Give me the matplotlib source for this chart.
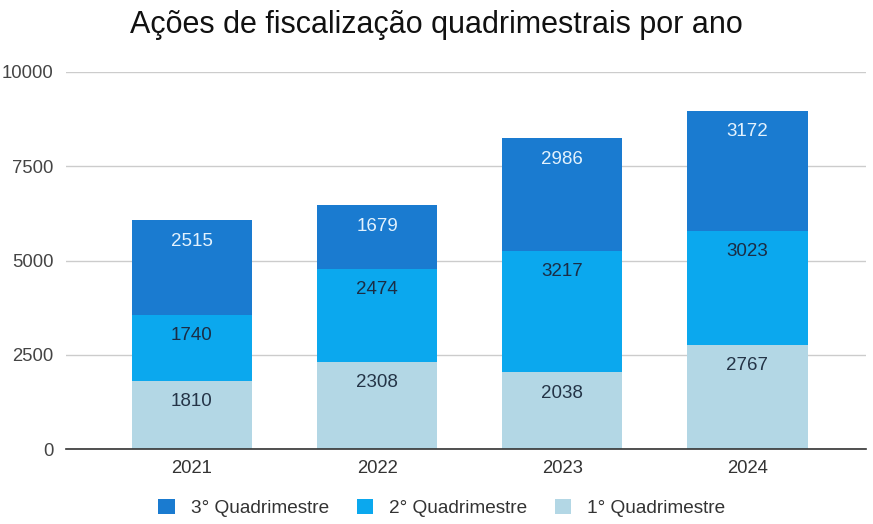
import matplotlib
matplotlib.use("Agg")
import matplotlib.pyplot as plt
import numpy as np

plt.rcParams['font.family'] = ['Liberation Sans', 'DejaVu Sans']

years = ["2021", "2022", "2023", "2024"]
q1 = [1810, 2308, 2038, 2767]
q2 = [1740, 2474, 3217, 3023]
q3 = [2515, 1679, 2986, 3172]
series_names = ["1° Quadrimestre", "2° Quadrimestre", "3° Quadrimestre"]
colors = ["#B3D7E5", "#0BA8EE", "#1A7BD0"]
label_colors = ["#243447", "#1B2D45", "#E3F2FD"]
yticks = [0, 2500, 5000, 7500, 10000]

fig = plt.figure(figsize=(8.73, 5.24), dpi=100)
ax = fig.add_axes([66/873, 1 - 449/524, (866-66)/873, (449-72)/524])

x = np.arange(len(years))
width = 0.65
bottom = np.zeros(len(years))
handles = []
for vals, name, col, lc in zip([q1, q2, q3], series_names, colors, label_colors):
    v = np.array(vals)
    b = ax.bar(x, v, width, bottom=bottom, color=col, label=name, zorder=3)
    handles.append(b)
    for xi, bi, vi in zip(x, bottom, v):
        ax.annotate(str(vi), (xi, bi + vi), xytext=(0, -15), textcoords='offset points',
                    ha='center', va='center', fontsize=13.5, color=lc, zorder=4)
    bottom = bottom + v

ax.set_xlim(-0.68, 3.64)
ax.set_ylim(0, 10000)
ax.set_yticks(yticks)
ax.set_yticklabels([str(t) for t in yticks], fontsize=13.3, color="#444444")
ax.set_xticks(x)
ax.set_xticklabels(years, fontsize=13.3, color="#333333")
ax.grid(axis='y', color="#CCCCCC", linewidth=1, zorder=0)
for s in ['top', 'right', 'left']:
    ax.spines[s].set_visible(False)
ax.spines['bottom'].set_color("#333333")
ax.spines['bottom'].set_linewidth(1.2)
ax.spines['bottom'].set_zorder(5)
ax.tick_params(axis='both', length=0)
ax.tick_params(axis='y', pad=9)
ax.tick_params(axis='x', pad=8)

fig.text(0.5, 1 - 25/524, "Ações de fiscalização quadrimestrais por ano", ha='center', va='center',
         fontsize=22, color="#111111")

fig.legend(handles[::-1], [h.get_label() for h in handles[::-1]], loc='center',
           bbox_to_anchor=(0.506, 1 - 508/524), ncol=3, frameon=False, fontsize=13.7,
           handlelength=0.85, handleheight=0.85, handletextpad=0.85, columnspacing=1.45,
           labelcolor="#333333")

fig.savefig("out.png", dpi=100)
